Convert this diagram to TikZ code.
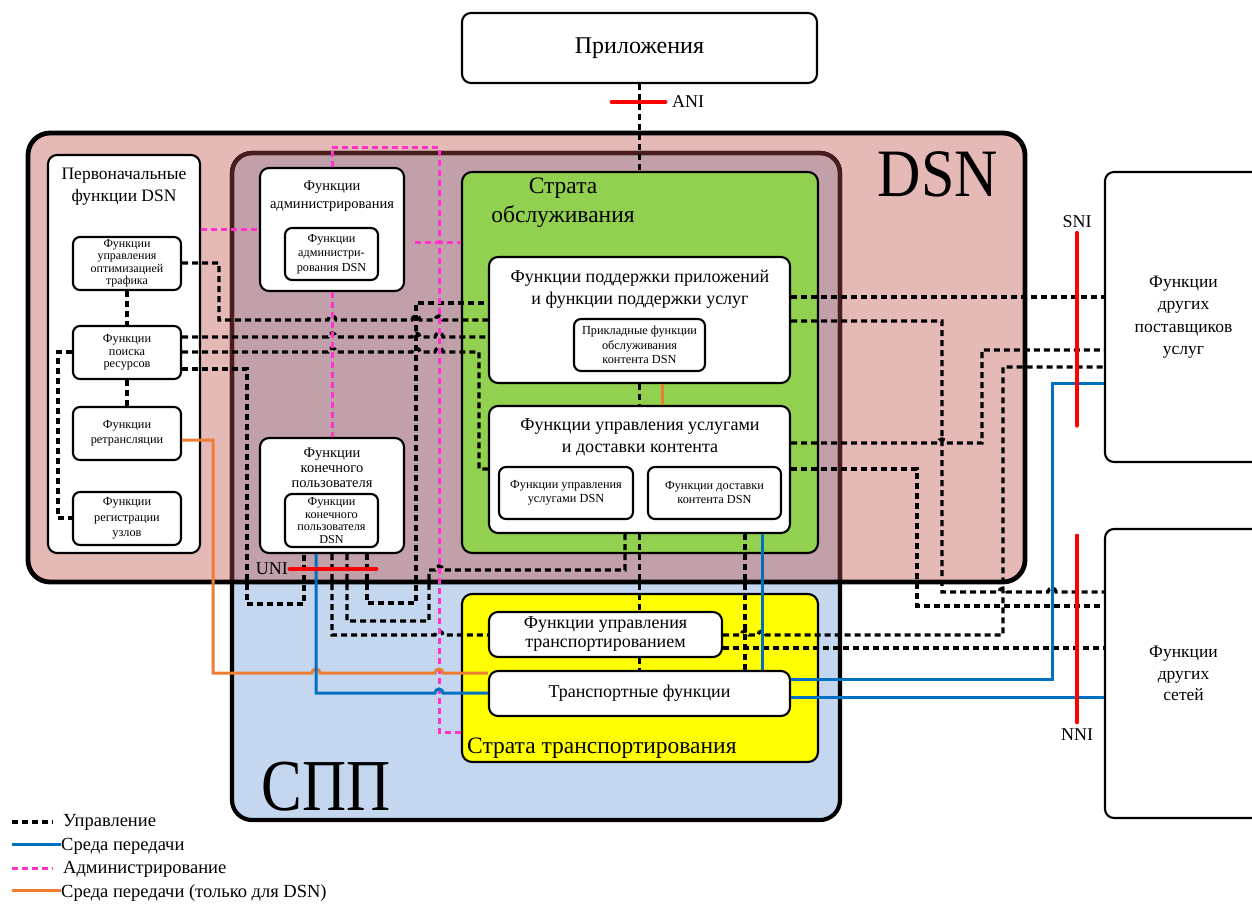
\documentclass[tikz,border=0pt]{standalone}
\usepackage{fontspec}
\setmainfont{Liberation Serif}
\definecolor{dsnpink}{HTML}{E4B9B6}
\definecolor{ngnmauve}{HTML}{C1A0A9}
\definecolor{ngnblue}{HTML}{C5D7EE}
\definecolor{svcgreen}{HTML}{92D050}
\definecolor{trnyellow}{HTML}{FFFF00}
\definecolor{ngnedge}{HTML}{4A1C1C}
\definecolor{mediablue}{HTML}{0070C0}
\definecolor{dsnorange}{HTML}{ED7D31}
\definecolor{adminpink}{HTML}{FF33CC}
% font size with baseline skip
\newcommand\fs[2]{\fontsize{#1}{#2}\selectfont}
% small bridge of a horizontal line over a vertical one at x=#1, y=#2
\newcommand\hopx[2]{-- (#1-4,#2) arc[start angle=180,end angle=0,radius=4pt]}
\begin{document}
\begin{tikzpicture}[x=1pt,y=-1pt,
  span/.style n args={4}{at={({(#1+#3)/2},{(#2+#4)/2})}, minimum width={#3-#1}, minimum height={#4-#2}},
  box/.style={draw=black, line width=2.1pt, fill=white, rounded corners=9pt, inner sep=0pt, align=center},
  ibox/.style={draw=black, line width=2.1pt, fill=white, rounded corners=7pt, inner sep=0pt, align=center},
  strata/.style={draw=black, line width=2.1pt, rounded corners=10pt, inner sep=0pt},
  lbl/.style={inner sep=0pt, align=center},
  ctl/.style={draw=black, line width=3.3pt, dash pattern=on 6pt off 4pt},
  adm/.style={draw=adminpink, line width=3pt, dash pattern=on 6pt off 4pt},
  med/.style={draw=mediablue, line width=3pt},
  dmed/.style={draw=dsnorange, line width=3pt},
  iface/.style={draw=red, line width=4.8pt, line cap=round},
]
\useasboundingbox (0,0) rectangle (1252,903);
\fill[white] (0,0) rectangle (1252,903);

% ---- NGN and DSN domains ----
\fill[ngnblue, rounded corners=20pt] (232,153) rectangle (840,820);
\fill[dsnpink, rounded corners=22pt] (28,133) rectangle (1025,582);
\fill[ngnmauve] (232,582) -- (232,173) arc[start angle=180,end angle=90,radius=20pt]
  -- (820,153) arc[start angle=90,end angle=0,radius=20pt] -- (840,582) -- cycle;
\draw[line width=4.2pt, rounded corners=20pt] (232,153) rectangle (840,820);
\draw[ngnedge, line width=4.2pt] (232,582) -- (232,173) arc[start angle=180,end angle=90,radius=20pt]
  -- (820,153) arc[start angle=90,end angle=0,radius=20pt] -- (840,582);
\draw[line width=4.8pt, rounded corners=22pt] (28,133) rectangle (1025,582);

\node[lbl, font=\fs{60}{60}] (dsnT) at (938,174) {\scalebox{1}[1.13]{DSN}};
\node[lbl, font=\fs{61}{61}] (ngnT) at (326,787) {\scalebox{1}[1.2]{СПП}};

% ---- strata ----
\node[strata, fill=svcgreen, span={462}{172}{818}{553}] (svc) {};
\node[strata, fill=trnyellow, span={462}{594}{818}{762}] (trn) {};
\node[lbl, font=\fs{23.5}{29}] (svcT) at (563,203) {Страта\\обслуживания};
\node[lbl, font=\fs{23.5}{25}, anchor=west] (trnT) at (467,748) {Страта транспортирования};

% ---- functional blocks ----
\node[box, span={462}{13}{817}{83}, font=\fs{24}{26}] (apps) {Приложения};

\node[box, span={48}{155}{200}{553}] (init) {};
\node[lbl, font=\fs{17.5}{22}] (initT) at (124,187) {Первоначальные\\функции DSN};
\node[ibox, span={73}{237}{181}{290}, font=\fs{12}{12.4}] (opt) {Функции\\управления\\оптимизацией\\трафика};
\node[ibox, span={73}{326}{181}{379}, font=\fs{12.3}{12.5}] (srch) {Функции\\поиска\\ресурсов};
\node[ibox, span={73}{407}{181}{460}, font=\fs{12.3}{15}] (relay) {Функции\\ретрансляции};
\node[ibox, span={73}{492}{181}{545}, font=\fs{12.3}{15.5}] (reg) {Функции\\регистрации\\узлов};

\node[box, span={260}{168}{404}{291}] (adm) {};
\node[lbl, font=\fs{14.5}{18}] (admT) at (332,196) {Функции\\администрирования};
\node[ibox, span={285}{228}{378}{280}, font=\fs{12.2}{14.5}] (admD) {Функции\\администри-\\рования DSN};

\node[box, span={260}{438}{404}{553}] (eu) {};
\node[lbl, font=\fs{14.5}{15}] (euT) at (332,468) {Функции\\конечного\\пользователя};
\node[ibox, span={285}{494}{378}{547}, font=\fs{12.2}{12.4}] (euD) {Функции\\конечного\\пользователя\\DSN};

\node[box, span={489}{257}{790}{383}] (aps) {};
\node[lbl, font=\fs{18}{22}] (apsT) at (640,289) {Функции поддержки приложений\\и функции поддержки услуг};
\node[ibox, span={574}{319}{705}{371}, font=\fs{12.3}{14.5}] (apc) {Прикладные функции\\обслуживания\\контента DSN};

\node[box, span={489}{406}{790}{533}] (scm) {};
\node[lbl, font=\fs{18}{22}] (scmT) at (640,437) {Функции управления услугами\\и доставки контента};
\node[ibox, span={499}{467}{633}{519}, font=\fs{12.3}{14}] (scmD) {Функции управления\\услугами DSN};
\node[ibox, span={648}{467}{781}{519}, font=\fs{12.3}{14}] (cdD) {Функции доставки\\контента DSN};

\node[box, span={489}{612}{722}{657}, font=\fs{18}{19}] (tcf) {Функции управления\\транспортированием};
\node[box, span={489}{671}{790}{716}, font=\fs{18}{20}] (tf) {Транспортные функции};

\node[box, span={1105}{172}{1262}{462}, font=\fs{17.5}{22.3}] (osp) {Функции\\других\\поставщиков\\услуг};
\node[box, span={1105}{529}{1262}{818}, font=\fs{17.5}{21.5}] (onet) {Функции\\других\\сетей};

% ---- control (dashed black) ----
\draw[ctl] (apps.south) -- (apps.south |- svc.north);
\draw[ctl] (opt.south) -- (srch.north);
\draw[ctl] (srch.south) -- (relay.north);
\draw[ctl] (srch.west |- 0,352) -- (58,352) -- (58,518) -- (reg.west |- 0,518);
\draw[ctl] (opt.east |- 0,263) -- (219,263) -- (219,320) \hopx{332}{320} \hopx{416}{320} \hopx{439}{320} -- (aps.west |- 0,320);
\draw[ctl] (srch.east |- 0,337) \hopx{332}{337} \hopx{416}{337} \hopx{439}{337} -- (aps.west |- 0,337);
\draw[ctl] (srch.east |- 0,352) \hopx{332}{352} \hopx{416}{352} \hopx{439}{352} -- (479,352) -- (479,469) -- (scm.west |- 0,469);
\draw[ctl] (srch.east |- 0,369) -- (247,369) -- (247,604) -- (304,604) -- (eu.south -| 304,0);
\draw[ctl] (eu.south -| 332,0) -- (332,635) \hopx{439}{635} -- (tcf.west |- 0,635);
\draw[ctl] (eu.south -| 347,0) -- (347,621) -- (429,621) -- (429,570) \hopx{439}{570} -- (625,570) -- (scm.south -| 625,0);
\draw[ctl] (eu.south -| 367,0) -- (367,603) -- (416,603) -- (416,303) -- (aps.west |- 0,303);
\draw[ctl] (aps.south) -- (scm.north);
\draw[ctl] (scm.south) -- (scm.south |- tcf.north);
\draw[ctl] (tcf.south -| scm.south) -- (tf.north -| scm.south);
\draw[ctl] (scm.south -| 745,0) -- (tf.north -| 745,0);
\draw[ctl] (aps.east |- 0,297) -- (osp.west |- 0,297);
\draw[ctl] (aps.east |- 0,321) -- (942,321) -- (942,592) \hopx{1003}{592} \hopx{1052}{592} -- (onet.west |- 0,592);
\draw[ctl] (scm.east |- 0,443) \hopx{942}{443} -- (982,443) -- (982,350) -- (osp.west |- 0,350);
\draw[ctl] (scm.east |- 0,469) -- (917,469) -- (917,606) -- (onet.west |- 0,606);
\draw[ctl] (tcf.east |- 0,635) \hopx{745}{635} \hopx{762}{635} -- (1003,635) -- (1003,367) -- (osp.west |- 0,367);
\draw[ctl] (tcf.east |- 0,648) -- (onet.west |- 0,648);

% ---- administration (dashed pink) ----
\coordinate (admstub) at (415,242);
\draw[adm] (init.east |- 0,229) -- (adm.west |- 0,229);
\draw[adm] (adm.north) -- (adm.north |- 0,147) -- (439,147) -- (439,242) -- (svc.west |- 0,242);
\draw[adm] (admstub) -- (439,242) -- (439,732) -- (trn.west |- 0,732);
\draw[adm] (adm.south) -- (eu.north);

% ---- transport media ----
\draw[dmed] (relay.east |- 0,440) -- (213,440) -- (213,673) \hopx{316}{673} \hopx{439}{673} -- (tf.west |- 0,673);
\draw[dmed] (aps.south -| 662,0) -- (scm.north -| 662,0);
\draw[med] (eu.south -| 316,0) -- (316,693) \hopx{439}{693} -- (tf.west |- 0,693);
\draw[med] (scm.south -| 762,0) -- (tf.north -| 762,0);
\draw[med] (tf.east |- 0,679) -- (1052,679) -- (1052,383) -- (osp.west |- 0,383);
\draw[med] (tf.east |- 0,697) -- (onet.west |- 0,697);

% ---- reference points ----
\node[lbl, font=\fs{18}{18}, anchor=west] (ani) at (672,102) {ANI};
\draw[iface] ([xshift=-7pt]ani.west) -- ++(-53,0);
\node[lbl, font=\fs{18}{18}] (sni) at (1077,222) {SNI};
\draw[iface] ([yshift=-5pt]sni.south) -- ++(0,192);
\node[lbl, font=\fs{18}{18}] (nni) at (1077,735) {NNI};
\draw[iface] ([yshift=7pt]nni.north) -- ++(0,-186);
\node[lbl, font=\fs{18}{18}, anchor=east] (uni) at (288,569) {UNI};
\draw[iface] ([xshift=2pt]uni.east) -- ++(86,0);

% ---- legend ----
\node[lbl, font=\fs{18.5}{20}, anchor=base west] (lg1) at (63,826) {Управление};
\node[lbl, font=\fs{18.5}{20}, anchor=base west] (lg2) at (61,850) {Среда передачи};
\node[lbl, font=\fs{18.5}{20}, anchor=base west] (lg3) at (63,873) {Администрирование};
\node[lbl, font=\fs{18.5}{20}, anchor=base west] (lg4) at (61,897) {Среда передачи (только для DSN)};
\coordinate (lgs1) at (12,822);
\coordinate (lgs2) at (12,844);
\coordinate (lgs3) at (12,868);
\coordinate (lgs4) at (12,890);
\draw[ctl] (lgs1) -- (53,822);
\draw[med] (lgs2) -- (lg2.west |- lgs2);
\draw[adm] (lgs3) -- (53,868);
\draw[dmed] (lgs4) -- (lg4.west |- lgs4);
\end{tikzpicture}
\end{document}
